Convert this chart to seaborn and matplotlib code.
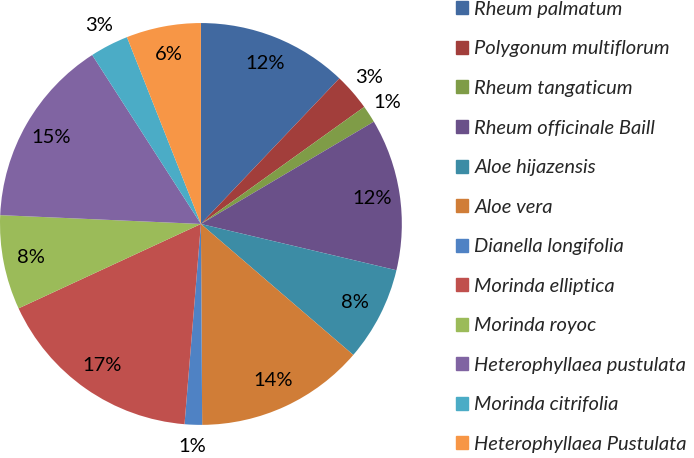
import numpy as np
import matplotlib
matplotlib.use("Agg")
import matplotlib.pyplot as plt
import seaborn as sns

species = [
    "Rheum palmatum", "Polygonum multiflorum", "Rheum tangaticum",
    "Rheum officinale Baill", "Aloe hijazensis", "Aloe vera",
    "Dianella longifolia", "Morinda elliptica", "Morinda royoc",
    "Heterophyllaea pustulata", "Morinda citrifolia", "Heterophyllaea Pustulata",
]
shares = [12.1, 3.0, 1.4, 12.2, 7.6, 13.6, 1.4, 16.8, 7.6, 15.2, 3.1, 6.0]
colors = [
    "#4169A0", "#A23E3B", "#7F9C47", "#6A5089", "#3C8CA5", "#D07D37",
    "#4F82C4", "#C0504D", "#9BBB59", "#8064A2", "#4BACC6", "#F79646",
]

sns.set_style("white")
plt.rcParams["font.family"] = ["Lato", "DejaVu Sans"]

fig = plt.figure(figsize=(6.94, 4.58), dpi=100)
ax = fig.add_axes([0.0, 0.072, 0.579, 0.878])

wedges, _ = ax.pie(shares, colors=colors, startangle=90, counterclock=False,
                   radius=1.0, wedgeprops=dict(linewidth=0))
ax.set_xlim(-1, 1)
ax.set_ylim(-1, 1)
ax.set_aspect("equal")
ax.axis("off")

total = sum(shares)
for w, v in zip(wedges, shares):
    mid = np.deg2rad((w.theta1 + w.theta2) / 2)
    r = 0.86 if v >= 5 else 1.11
    ax.text(r * np.cos(mid), r * np.sin(mid), f"{round(100 * v / total):.0f}%",
            ha="center", va="center", fontsize=14.5, color="black", clip_on=False)

handles = [plt.Rectangle((0, 0), 1, 1, color=c) for c in colors]
leg = fig.legend(handles, species, loc="upper left", bbox_to_anchor=(0.657, 0.998),
                 frameon=False, prop=dict(style="italic", size=14.5),
                 handlelength=0.62, handleheight=0.62, handletextpad=0.3,
                 labelspacing=1.12, borderpad=0.0, borderaxespad=0.0)

fig.savefig("out.png", dpi=100)
